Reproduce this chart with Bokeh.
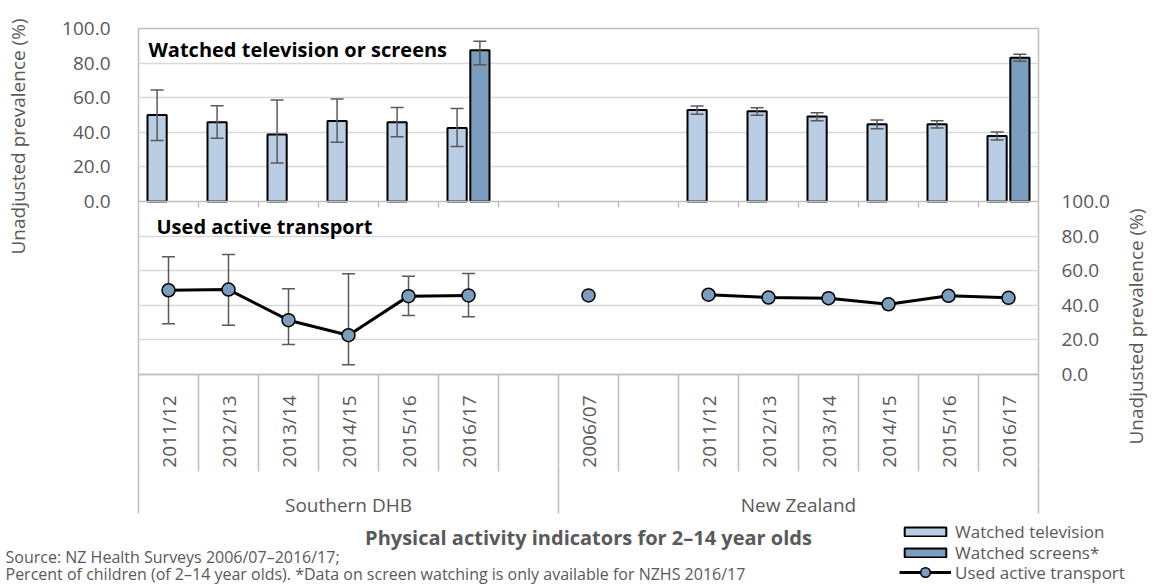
import math
import numpy as np
from bokeh.plotting import figure
from bokeh.layouts import row, column
from bokeh.models import (Range1d, LinearAxis, FixedTicker, ColumnDataSource, Whisker, TeeHead,
                          Label, Legend, LegendItem, Span, PrintfTickFormatter)
from bokeh.embed import file_html
from bokeh.resources import INLINE

# ---------------- data ----------------
groups = ["Southern DHB"] * 7 + ["New Zealand"] * 8
years = ["2011/12", "2012/13", "2013/14", "2014/15", "2015/16", "2016/17", "",
         "2006/07", "", "2011/12", "2012/13", "2013/14", "2014/15", "2015/16", "2016/17"]

tv    = [50.0, 45.8, 38.7, 46.6, 45.8, 42.5, None, None, None, 52.9, 52.1, 49.2, 44.6, 44.6, 37.9]
tv_lo = [35.2, 36.6, 22.2, 34.3, 37.5, 31.8, None, None, None, 50.4, 49.8, 46.7, 42.1, 42.5, 35.6]
tv_hi = [64.4, 55.4, 58.6, 59.2, 54.4, 53.8, None, None, None, 55.2, 54.2, 51.3, 47.1, 46.7, 40.2]

screens    = [None, None, None, None, None, 87.4, None, None, None, None, None, None, None, None, 83.1]
screens_lo = [None, None, None, None, None, 79.0, None, None, None, None, None, None, None, None, 81.0]
screens_hi = [None, None, None, None, None, 92.7, None, None, None, None, None, None, None, None, 85.1]

transport    = [48.7, 49.1, 31.4, 22.7, 45.3, 45.7, None, 45.7, None, 46.1, 44.5, 44.1, 40.6, 45.5, 44.3]
transport_lo = [29.3, 28.5, 17.3, 5.6, 34.1, 33.4, None, None, None, None, None, None, None, None, None]
transport_hi = [68.0, 69.4, 49.5, 58.2, 56.8, 58.4, None, None, None, None, None, None, None, None, None]

value_ticks = [0, 20, 40, 60, 80, 100]

axis_title = "Unadjusted prevalence (%)"
chart_title = "Physical activity indicators for 2\u201314 year olds"
note1 = "Source: NZ Health Surveys 2006/07\u20132016/17;"
note2 = "Percent of children (of 2\u201314 year olds). *Data on screen watching is only available for NZHS 2016/17"
legend_labels = ["Watched television", "Watched screens*", "Used active transport"]

# ---------------- style ----------------
FONT = "Open Sans"
GREY_TXT = "#595959"
GRID = "#d9d9d9"
BORDER = "#bfbfbf"
TV_COL = "#b9cee5"
SC_COL = "#7b9dbe"
ERR = "#595959"

n = len(years)
centers = list(range(n))
edges = [i - 0.5 for i in range(n + 1)]
eps = 1e-4
edges_safe = [edges[0] + eps] + edges[1:-1] + [edges[-1] - eps]
gnames = list(dict.fromkeys(groups))
g_edges = [edges[0] + eps] + [i - 0.5 for i in range(1, n) if groups[i] != groups[i - 1]] + [edges[-1] - eps]
g_centers = [(a + b) / 2 for a, b in zip(g_edges[:-1], g_edges[1:])]

DODGE = 0.19
BW = 0.32


def rows(vals, lo=None, hi=None, off=0.0):
    d = {"x": [], "v": [], "lo": [], "hi": []}
    for i, v in enumerate(vals):
        if v is None:
            continue
        d["x"].append(centers[i] + off)
        d["v"].append(v)
        d["lo"].append(lo[i] if lo and lo[i] is not None else np.nan)
        d["hi"].append(hi[i] if hi and hi[i] is not None else np.nan)
    return d


tv_src = ColumnDataSource(rows(tv, tv_lo, tv_hi, -DODGE))
sc_src = ColumnDataSource(rows(screens, screens_lo, screens_hi, DODGE))
tr_pts = ColumnDataSource(rows(transport, transport_lo, transport_hi))
tr_all = rows(transport, transport_lo, transport_hi)
keep = [k for k in range(len(tr_all["x"])) if not np.isnan(tr_all["lo"][k])]
tr_err_src = ColumnDataSource({c: [tr_all[c][k] for k in keep] for c in tr_all})
tr_line = ColumnDataSource({"x": centers, "v": [np.nan if v is None else v for v in transport]})

# ---------------- layout sizes ----------------
TOTAL_W, TOTAL_H = 1150, 584
W_LT, W_RT = 30, 34
W_MAIN = TOTAL_W - W_LT - W_RT
H_MAIN = 520
H_BOT = TOTAL_H - H_MAIN


def style_axis(ax, size="19px"):
    ax.axis_line_color = None
    ax.major_tick_line_color = None
    ax.minor_tick_line_color = None
    ax.major_label_text_font = FONT
    ax.major_label_text_font_size = size
    ax.major_label_text_color = GREY_TXT


# ---------------- main figure ----------------
p = figure(width=W_MAIN, height=H_MAIN, x_range=Range1d(edges[0], edges[-1]),
           y_range=Range1d(-100, 100), output_backend="svg", toolbar_location=None,
           min_border_left=108, min_border_right=78, min_border_top=28, min_border_bottom=145)
p.extra_y_ranges = {"tr": Range1d(0, 200)}
p.outline_line_color = BORDER
p.outline_line_width = 1.5
p.xgrid.visible = False
p.ygrid.ticker = FixedTicker(ticks=[-80, -60, -40, -20, 20, 40, 60, 80])
p.ygrid.grid_line_color = GRID
p.ygrid.grid_line_width = 1.5
p.add_layout(Span(location=0, dimension="width", line_color=BORDER, line_width=1.5))

ya = p.yaxis[0]
ya.ticker = FixedTicker(ticks=value_ticks)
ya.formatter = PrintfTickFormatter(format="%.1f")
style_axis(ya)
ya.major_label_standoff = 22

ra = LinearAxis(y_range_name="tr", ticker=FixedTicker(ticks=value_ticks),
                formatter=PrintfTickFormatter(format="%.1f"))
style_axis(ra)
ra.major_label_standoff = 17
p.add_layout(ra, "right")

xa = p.xaxis[0]
xa.ticker = FixedTicker(ticks=[c for c, y in zip(centers, years) if y], minor_ticks=edges_safe)
xa.major_label_overrides = {c: y for c, y in zip(centers, years) if y}
xa.major_label_orientation = math.pi / 2
style_axis(xa)
xa.axis_line_color = BORDER
xa.axis_line_width = 1.5
xa.minor_tick_line_color = BORDER
xa.minor_tick_line_width = 1.5
xa.minor_tick_in = 0
xa.minor_tick_out = 97
xa.major_label_standoff = -76

ga = LinearAxis(ticker=FixedTicker(ticks=g_centers, minor_ticks=g_edges))
ga.major_label_overrides = {c: g for c, g in zip(g_centers, gnames)}
style_axis(ga)
ga.minor_tick_line_color = BORDER
ga.minor_tick_line_width = 1.5
ga.minor_tick_in = 0
ga.minor_tick_out = 43
ga.major_label_standoff = -22
p.add_layout(ga, "below")

inner = edges[1:-1]
p.segment(x0=inner, y0=[0] * len(inner), x1=inner, y1=[-3.5] * len(inner),
          line_color=BORDER, line_width=1.5)

tv_r = p.vbar(x="x", top="v", bottom=0, width=BW, source=tv_src,
              fill_color=TV_COL, line_color="black", line_width=2)
sc_r = p.vbar(x="x", top="v", bottom=0, width=BW, source=sc_src,
              fill_color=SC_COL, line_color="black", line_width=2)
for src in (tv_src, sc_src):
    p.add_layout(Whisker(source=src, base="x", upper="hi", lower="lo", dimension="height",
                         line_color=ERR, line_width=1.5, level="annotation",
                         upper_head=TeeHead(size=13, line_color=ERR, line_width=1.5),
                         lower_head=TeeHead(size=13, line_color=ERR, line_width=1.5)))

p.add_layout(Whisker(source=tr_err_src, base="x", upper="hi", lower="lo", dimension="height",
                     y_range_name="tr", line_color=ERR, line_width=1.5, level="underlay",
                     upper_head=TeeHead(size=13, line_color=ERR, line_width=1.5),
                     lower_head=TeeHead(size=13, line_color=ERR, line_width=1.5)))
p.line(x="x", y="v", source=tr_line, y_range_name="tr", line_color="black", line_width=3)
p.scatter(x="x", y="v", source=tr_pts, y_range_name="tr", marker="circle", size=13,
          fill_color=SC_COL, line_color="black", line_width=1.5)

p.add_layout(Label(x=edges[0], y=88, x_offset=10, text="Watched television or screens",
                   text_font=FONT, text_font_style="bold", text_font_size="20px",
                   text_color="black", text_baseline="middle"))
p.add_layout(Label(x=edges[0], y=85.3, x_offset=18, y_range_name="tr", text="Used active transport",
                   text_font=FONT, text_font_style="bold", text_font_size="20px",
                   text_color="black", text_baseline="middle"))


# ---------------- strips ----------------
def strip(w, h):
    f = figure(width=w, height=h, x_range=Range1d(0, w), y_range=Range1d(h, 0),
               x_axis_type=None, y_axis_type=None, output_backend="svg", toolbar_location=None,
               min_border=0, min_border_left=0, min_border_right=0, min_border_top=0,
               min_border_bottom=0)
    f.outline_line_color = None
    return f


lt = strip(W_LT, H_MAIN)
lt.add_layout(Label(x=17, y=136, text=axis_title, angle=math.pi / 2, text_font=FONT,
                    text_font_size="19px", text_color=GREY_TXT, text_align="center",
                    text_baseline="middle"))
rt = strip(W_RT, H_MAIN)
rt.add_layout(Label(x=19, y=326, text=axis_title, angle=math.pi / 2, text_font=FONT,
                    text_font_size="19px", text_color=GREY_TXT, text_align="center",
                    text_baseline="middle"))

bot = strip(TOTAL_W, H_BOT)
bot.add_layout(Label(x=588, y=17, text=chart_title, text_font=FONT,
                     text_font_style="bold", text_font_size="20px", text_color=GREY_TXT,
                     text_align="center", text_baseline="middle"))
bot.add_layout(Label(x=5, y=36, text=note1, text_font=FONT, text_font_size="16px",
                     text_color=GREY_TXT, text_baseline="middle"))
bot.add_layout(Label(x=5, y=53, text=note2, text_font=FONT, text_font_size="16px",
                     text_color=GREY_TXT, text_baseline="middle"))

nan1 = [np.nan]
d_tv = bot.vbar(x=nan1, top=nan1, width=1, fill_color=TV_COL, line_color="black", line_width=2)
d_sc = bot.vbar(x=nan1, top=nan1, width=1, fill_color=SC_COL, line_color="black", line_width=2)
d_ln = bot.line(x=nan1, y=nan1, line_color="black", line_width=3)
d_pt = bot.scatter(x=nan1, y=nan1, marker="circle", size=13, fill_color=SC_COL,
                   line_color="black", line_width=1.5)


def add_legend(label, rends, vy, gh):
    lg = Legend(items=[LegendItem(label=label, renderers=rends)], location=(899, vy),
                glyph_width=52, glyph_height=gh, label_height=20, spacing=0, padding=0, margin=0,
                label_standoff=4, label_text_font=FONT, label_text_font_size="17px",
                label_text_color=GREY_TXT, background_fill_alpha=0, border_line_color=None)
    bot.add_layout(lg)


add_legend(legend_labels[0], [d_tv], 41, 11)
add_legend(legend_labels[1], [d_sc], 20, 11)
add_legend(legend_labels[2], [d_ln, d_pt], 0, 24)

top = row(column(lt), p, column(rt))
layout = column(top, bot)
open("out.html", "w").write(file_html(layout, INLINE))
